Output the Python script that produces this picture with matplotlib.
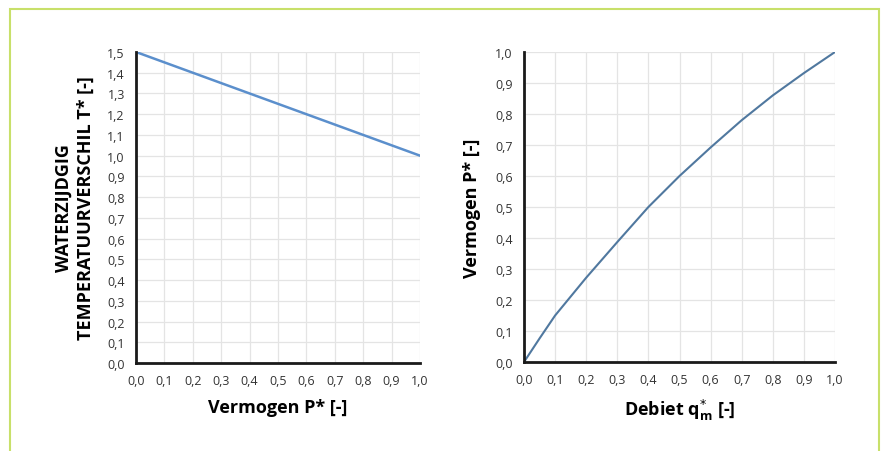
import matplotlib.pyplot as plt
from matplotlib.patches import Rectangle
import numpy as np

plt.rcParams['font.family'] = ['Open Sans', 'DejaVu Sans']

# left chart: temperature difference vs power
p_left = [0.0, 1.0]
t_left = [1.5, 1.0]

# right chart: power vs flow rate
q_right = [0.0, 0.05, 0.1, 0.2, 0.3, 0.4, 0.5, 0.6, 0.7, 0.8, 0.9, 1.0]
p_right = [0.0, 0.076, 0.15, 0.272, 0.387, 0.5, 0.6, 0.692, 0.78, 0.86, 0.932, 1.0]

xticks = np.round(np.arange(0, 1.01, 0.1), 1)
yticks_left = np.round(np.arange(0, 1.51, 0.1), 1)
yticks_right = np.round(np.arange(0, 1.01, 0.1), 1)

W, H = 884, 452
fig = plt.figure(figsize=(W / 100, H / 100), dpi=100)

# green frame
fig.patches.append(Rectangle((10 / W, -0.05), 869 / W, 1 - 10 / H + 0.05,
                             transform=fig.transFigure, fill=False,
                             edgecolor='#c8e06a', linewidth=1.5))


def fmt(v):
    return ('%.1f' % v).replace('.', ',')


def style(ax, yticks):
    ax.set_xlim(0, 1)
    ax.set_xticks(xticks)
    ax.set_xticklabels([fmt(v) for v in xticks])
    ax.set_yticks(yticks)
    ax.set_yticklabels([fmt(v) for v in yticks])
    ax.set_ylim(yticks[0], yticks[-1])
    ax.grid(True, color='#e4e4e4', linewidth=0.9)
    ax.set_axisbelow(True)
    for s in ['top', 'right']:
        ax.spines[s].set_visible(False)
    for s in ['left', 'bottom']:
        ax.spines[s].set_linewidth(2)
        ax.spines[s].set_color('#1a1a1a')
    ax.tick_params(length=0, labelsize=9, colors='#333333', pad=8)


ax1 = fig.add_axes([136 / W, 1 - 364 / H, (420 - 136) / W, (364 - 53) / H])
ax1.plot(p_left, t_left, color='#5b8fcc', linewidth=1.8)
style(ax1, yticks_left)
ax1.set_xlabel('Vermogen P* [-]', fontsize=13, fontweight='bold', labelpad=8)
ax1.set_ylabel('WATERZIJDGIG\nTEMPERATUURVERSCHIL T* [-]', fontsize=13,
               fontweight='bold', labelpad=9, linespacing=1.3)

ax2 = fig.add_axes([524 / W, 1 - 363 / H, (835 - 524) / W, (363 - 53) / H])
ax2.plot(q_right, p_right, color='#50789f', linewidth=1.5)
style(ax2, yticks_right)
ax2.set_xlabel('Debiet q$^{*}_{\\mathregular{m}}$ [-]', fontsize=13,
               fontweight='bold', labelpad=8)
ax2.set_ylabel('Vermogen P* [-]', fontsize=13, fontweight='bold', labelpad=10)

fig.savefig('out.png', dpi=100)
